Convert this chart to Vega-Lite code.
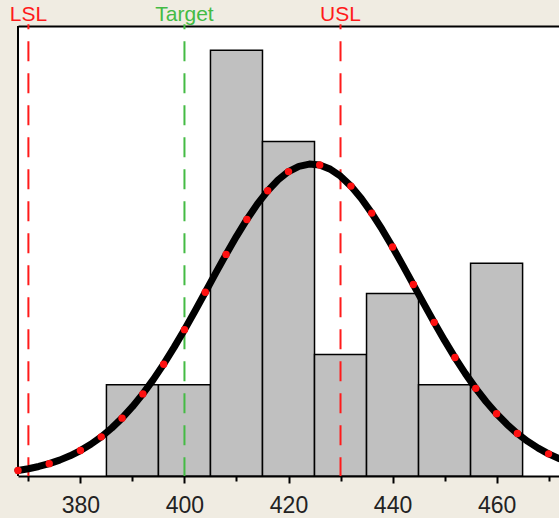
{
  "$schema": "https://vega.github.io/schema/vega-lite/v6.json",
  "autosize": {"type": "none"},
  "width": 541,
  "height": 450,
  "padding": {"left": 18, "top": 26, "right": 0, "bottom": 42},
  "background": "#f0ece2",
  "config": {"view": {"stroke": null, "fill": "#ffffff"}},
  "datasets": {
    "bins": [
      {"start": 385, "end": 395, "count": 3},
      {"start": 395, "end": 405, "count": 3},
      {"start": 405, "end": 415, "count": 14},
      {"start": 415, "end": 425, "count": 11},
      {"start": 425, "end": 435, "count": 4},
      {"start": 435, "end": 445, "count": 6},
      {"start": 445, "end": 455, "count": 3},
      {"start": 455, "end": 465, "count": 7}
    ],
    "curve": [
      {"x": 368, "y": 0.180}, {"x": 370, "y": 0.238}, {"x": 372, "y": 0.313}, {"x": 374, "y": 0.406},
      {"x": 376, "y": 0.522}, {"x": 378, "y": 0.664}, {"x": 380, "y": 0.837}, {"x": 382, "y": 1.044},
      {"x": 384, "y": 1.288}, {"x": 386, "y": 1.574}, {"x": 388, "y": 1.903}, {"x": 390, "y": 2.279},
      {"x": 392, "y": 2.701}, {"x": 394, "y": 3.169}, {"x": 396, "y": 3.678}, {"x": 398, "y": 4.230},
      {"x": 400, "y": 4.813}, {"x": 402, "y": 5.420}, {"x": 404, "y": 6.044}, {"x": 406, "y": 6.671},
      {"x": 408, "y": 7.288}, {"x": 410, "y": 7.882}, {"x": 412, "y": 8.438}, {"x": 414, "y": 8.942},
      {"x": 416, "y": 9.380}, {"x": 418, "y": 9.739}, {"x": 420, "y": 10.011}, {"x": 422, "y": 10.185},
      {"x": 424, "y": 10.258}, {"x": 426, "y": 10.227}, {"x": 428, "y": 10.093}, {"x": 430, "y": 9.859},
      {"x": 432, "y": 9.534}, {"x": 434, "y": 9.125}, {"x": 436, "y": 8.646}, {"x": 438, "y": 8.110},
      {"x": 440, "y": 7.530}, {"x": 442, "y": 6.919}, {"x": 444, "y": 6.296}, {"x": 446, "y": 5.669},
      {"x": 448, "y": 5.053}, {"x": 450, "y": 4.459}, {"x": 452, "y": 3.895}, {"x": 454, "y": 3.367},
      {"x": 456, "y": 2.882}, {"x": 458, "y": 2.442}, {"x": 460, "y": 2.048}, {"x": 462, "y": 1.700},
      {"x": 464, "y": 1.397}, {"x": 466, "y": 1.137}, {"x": 468, "y": 0.915}, {"x": 470, "y": 0.729},
      {"x": 472, "y": 0.575}
    ],
    "dots": [
      {"x": 368, "y": 0.180}, {"x": 374, "y": 0.406}, {"x": 380, "y": 0.837}, {"x": 384, "y": 1.288},
      {"x": 388, "y": 1.903}, {"x": 392, "y": 2.701}, {"x": 396, "y": 3.678}, {"x": 400, "y": 4.813},
      {"x": 404, "y": 6.044}, {"x": 408, "y": 7.288}, {"x": 412, "y": 8.438}, {"x": 416, "y": 9.380},
      {"x": 420, "y": 10.011}, {"x": 426, "y": 10.227}, {"x": 432, "y": 9.534}, {"x": 436, "y": 8.646},
      {"x": 440, "y": 7.530}, {"x": 444, "y": 6.296}, {"x": 448, "y": 5.053}, {"x": 452, "y": 3.895},
      {"x": 456, "y": 2.882}, {"x": 460, "y": 2.048}, {"x": 464, "y": 1.397}, {"x": 470, "y": 0.729}
    ],
    "limits": [
      {"name": "LSL", "value": 370, "kind": "spec"},
      {"name": "Target", "value": 400, "kind": "target"},
      {"name": "USL", "value": 430, "kind": "spec"}
    ],
    "frame": [
      {"x": 368}
    ]
  },
  "layer": [
    {
      "data": {"name": "bins"},
      "mark": {"type": "rect", "fill": "#c0c0c0", "stroke": "#000000", "strokeWidth": 1.5},
      "encoding": {
        "x": {
          "field": "start", "type": "quantitative",
          "scale": {"domain": [368, 472], "nice": false, "zero": false},
          "axis": {
            "orient": "bottom", "title": null,
            "values": [370, 380, 390, 400, 410, 420, 430, 440, 450, 460, 470],
            "labelExpr": "datum.value % 20 == 0 ? datum.label : ''",
            "tickSize": {"expr": "datum.value % 20 == 0 ? 7 : 5"},
            "tickColor": "#000000", "tickWidth": 2,
            "domainColor": "#000000", "domainWidth": 2,
            "labelFont": "Liberation Sans", "labelFontSize": 23, "labelColor": "#222222",
            "labelPadding": 11, "grid": false, "labelFlush": false
          }
        },
        "x2": {"field": "end"},
        "y": {
          "field": "count", "type": "quantitative",
          "scale": {"domain": [0, 14.8], "nice": false},
          "axis": null
        },
        "y2": {"datum": 0}
      }
    },
    {
      "data": {"name": "frame"},
      "mark": {"type": "rule", "color": "#000000", "strokeWidth": 2},
      "encoding": {
        "x": {"field": "x", "type": "quantitative", "axis": null},
        "y": {"datum": 0, "axis": null},
        "y2": {"datum": 14.8}
      }
    },
    {
      "data": {"name": "limits"},
      "mark": {"type": "rule", "strokeWidth": 2, "strokeDash": [20, 12], "strokeDashOffset": 15},
      "encoding": {
        "x": {
          "field": "value", "type": "quantitative",
          "axis": {"orient": "top", "title": null, "labels": false, "ticks": false, "grid": false, "domainColor": "#000000", "domainWidth": 2}
        },
        "y": {"datum": 14.86, "axis": null},
        "y2": {"datum": 0},
        "color": {
          "field": "kind", "type": "nominal",
          "scale": {"domain": ["spec", "target"], "range": ["#ff1a1a", "#44bb44"]},
          "legend": null
        }
      }
    },
    {
      "data": {"name": "curve"},
      "mark": {"type": "line", "color": "#000000", "strokeWidth": 7, "strokeCap": "round", "strokeJoin": "round"},
      "encoding": {
        "x": {"field": "x", "type": "quantitative", "axis": null},
        "y": {"field": "y", "type": "quantitative", "axis": null}
      }
    },
    {
      "data": {"name": "dots"},
      "mark": {"type": "point", "shape": "circle", "filled": true, "color": "#ff1010", "size": 55, "opacity": 1},
      "encoding": {
        "x": {"field": "x", "type": "quantitative", "axis": null},
        "y": {"field": "y", "type": "quantitative", "axis": null}
      }
    },
    {
      "data": {"name": "limits"},
      "mark": {"type": "text", "baseline": "alphabetic", "align": "center", "dy": -5, "font": "Liberation Sans", "fontSize": 21},
      "encoding": {
        "x": {"field": "value", "type": "quantitative", "axis": null},
        "y": {"datum": 14.8, "axis": null},
        "text": {"field": "name"},
        "color": {"field": "kind", "type": "nominal", "legend": null}
      }
    }
  ]
}
